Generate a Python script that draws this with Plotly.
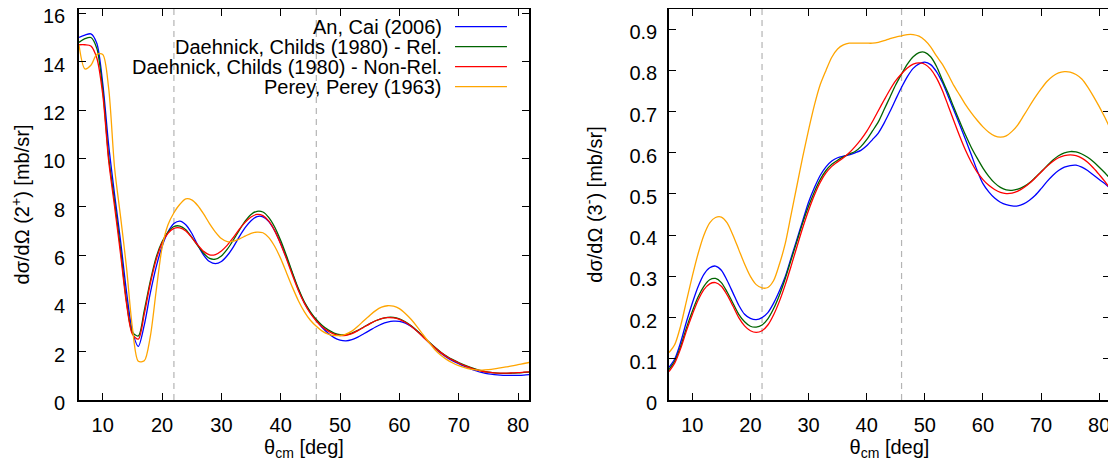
import plotly.graph_objects as go

# ---------------- data ----------------
theta = list(range(6, 83))  # theta_cm [deg]

series_names = [
    "An, Cai (2006)",
    "Daehnick, Childs (1980) - Rel.",
    "Daehnick, Childs (1980) - Non-Rel.",
    "Perey, Perey (1963)",
]
series_colors = ["#0000ff", "#006400", "#ff0000", "#ffa500"]

# left panel: dsigma/dOmega (2+) [mb/sr]
xs2_an_cai = [15.0, 15.1, 15.15, 14.76, 13.1, 10.55, 8.5, 6.6, 4.5, 2.85,
              2.22, 3.1, 4.4, 5.5, 6.35, 6.95, 7.3, 7.4, 7.25, 6.9,
              6.42, 6.0, 5.73, 5.64, 5.73, 5.98, 6.33, 6.75, 7.13, 7.42,
              7.59, 7.58, 7.38, 7.0, 6.48, 5.87, 5.22, 4.55, 4.02, 3.62,
              3.3, 3.0, 2.76, 2.58, 2.48, 2.45, 2.5, 2.6, 2.74, 2.88,
              3.02, 3.14, 3.22, 3.26, 3.25, 3.18, 3.04, 2.86, 2.63, 2.38,
              2.14, 1.93, 1.76, 1.62, 1.5, 1.39, 1.29, 1.2, 1.13, 1.08,
              1.05, 1.03, 1.02, 1.02, 1.02, 1.03, 1.05]
xs2_dc_rel = [14.8, 14.95, 15.0, 14.55, 12.85, 10.05, 8.2, 6.25, 4.1, 2.8,
              2.65, 3.7, 4.9, 5.9, 6.55, 6.95, 7.18, 7.2, 7.05, 6.74,
              6.39, 6.07, 5.86, 5.83, 5.96, 6.24, 6.61, 7.02, 7.4, 7.68,
              7.81, 7.78, 7.55, 7.15, 6.6, 5.95, 5.25, 4.6, 4.05, 3.65,
              3.33, 3.08, 2.9, 2.77, 2.7, 2.7, 2.77, 2.88, 3.02, 3.16,
              3.28, 3.37, 3.42, 3.42, 3.36, 3.24, 3.07, 2.86, 2.63, 2.4,
              2.18, 1.98, 1.81, 1.67, 1.55, 1.44, 1.35, 1.27, 1.2, 1.15,
              1.12, 1.1, 1.1, 1.11, 1.12, 1.14, 1.16]
xs2_dc_nonrel = [14.7, 14.7, 14.65, 14.15, 12.65, 9.9, 8.0, 6.05, 4.0, 2.72,
                 2.52, 3.55, 4.8, 5.8, 6.5, 6.9, 7.1, 7.12, 6.99, 6.72,
                 6.42, 6.15, 6.01, 6.02, 6.17, 6.41, 6.72, 7.06, 7.35, 7.57,
                 7.68, 7.63, 7.4, 7.0, 6.45, 5.82, 5.15, 4.52, 4.0, 3.58,
                 3.27, 3.02, 2.85, 2.73, 2.67, 2.68, 2.75, 2.87, 3.01, 3.15,
                 3.28, 3.37, 3.41, 3.4, 3.34, 3.22, 3.05, 2.84, 2.61, 2.38,
                 2.16, 1.96, 1.79, 1.65, 1.53, 1.42, 1.33, 1.25, 1.19, 1.15,
                 1.12, 1.11, 1.11, 1.12, 1.13, 1.15, 1.17]
xs2_perey = [14.7, 13.7, 13.85, 14.3, 14.3, 12.9, 9.6, 7.6, 5.5, 3.0,
             1.6, 1.62, 2.6, 4.5, 6.3, 7.25, 7.75, 8.1, 8.32, 8.28,
             8.05, 7.7, 7.3, 6.95, 6.68, 6.55, 6.57, 6.66, 6.78, 6.9,
             6.95, 6.92, 6.72, 6.35, 5.85, 5.25, 4.65, 4.1, 3.65, 3.3,
             3.05, 2.85, 2.73, 2.67, 2.67, 2.73, 2.85, 3.05, 3.28, 3.5,
             3.7, 3.84, 3.9, 3.88, 3.78, 3.58, 3.33, 3.03, 2.7, 2.38,
             2.08, 1.85, 1.67, 1.53, 1.42, 1.34, 1.28, 1.25, 1.24, 1.26,
             1.29, 1.33, 1.37, 1.41, 1.46, 1.51, 1.56]

# right panel: dsigma/dOmega (3-) [mb/sr]
xs3_an_cai = [0.079, 0.1, 0.14, 0.19, 0.235, 0.275, 0.305, 0.321, 0.325, 0.315,
              0.29, 0.26, 0.23, 0.208, 0.198, 0.195, 0.2, 0.212, 0.235, 0.265,
              0.3, 0.345, 0.39, 0.435, 0.48, 0.515, 0.545, 0.566, 0.58, 0.588,
              0.592, 0.595, 0.6, 0.606, 0.617, 0.632, 0.648, 0.672, 0.7, 0.73,
              0.759, 0.785, 0.805, 0.816, 0.82, 0.814, 0.797, 0.771, 0.738, 0.703,
              0.668, 0.632, 0.595, 0.557, 0.525, 0.505, 0.49, 0.48, 0.474, 0.471,
              0.471, 0.476, 0.485, 0.497, 0.513, 0.53, 0.545, 0.557, 0.565, 0.569,
              0.57, 0.565, 0.557, 0.546, 0.535, 0.525, 0.512]
xs3_dc_rel = [0.074, 0.095, 0.13, 0.175, 0.215, 0.25, 0.276, 0.292, 0.295, 0.285,
              0.262, 0.235, 0.208, 0.19, 0.179, 0.177, 0.182, 0.197, 0.222, 0.255,
              0.295, 0.34, 0.385, 0.43, 0.47, 0.505, 0.535, 0.557, 0.572, 0.582,
              0.59, 0.597, 0.603, 0.615, 0.632, 0.653, 0.675, 0.705, 0.735, 0.765,
              0.791, 0.815, 0.833, 0.843, 0.844, 0.833, 0.81, 0.777, 0.745, 0.71,
              0.676, 0.643, 0.613, 0.587, 0.563, 0.543, 0.527, 0.516, 0.51, 0.509,
              0.512, 0.518, 0.527, 0.54, 0.554, 0.568, 0.582, 0.593, 0.6, 0.603,
              0.602, 0.597, 0.589, 0.578, 0.565, 0.551, 0.535]
xs3_dc_nonrel = [0.069, 0.09, 0.125, 0.168, 0.207, 0.242, 0.268, 0.282, 0.285, 0.276,
                 0.255, 0.228, 0.2, 0.18, 0.168, 0.164, 0.168, 0.182, 0.207, 0.24,
                 0.28, 0.325, 0.372, 0.418, 0.46, 0.497, 0.528, 0.551, 0.567, 0.578,
                 0.588, 0.6, 0.615, 0.632, 0.652, 0.676, 0.702, 0.728, 0.753, 0.775,
                 0.792, 0.806, 0.815, 0.818, 0.815, 0.803, 0.782, 0.752, 0.715, 0.677,
                 0.64, 0.606, 0.577, 0.553, 0.535, 0.521, 0.511, 0.504, 0.501, 0.502,
                 0.507, 0.515, 0.526, 0.539, 0.553, 0.567, 0.579, 0.588, 0.593, 0.595,
                 0.593, 0.587, 0.577, 0.563, 0.547, 0.53, 0.51]
xs3_perey = [0.115, 0.135, 0.18, 0.24, 0.3, 0.355, 0.4, 0.43, 0.443, 0.444,
             0.43, 0.4, 0.365, 0.33, 0.3, 0.28, 0.272, 0.273, 0.29, 0.33,
             0.38, 0.45, 0.52, 0.59, 0.655, 0.715, 0.765, 0.8, 0.832, 0.852,
             0.862, 0.866, 0.866, 0.866, 0.866, 0.866, 0.868, 0.872, 0.877, 0.881,
             0.884, 0.887, 0.887, 0.883, 0.873, 0.857, 0.835, 0.815, 0.79, 0.763,
             0.74, 0.717, 0.697, 0.679, 0.663, 0.65, 0.641, 0.638, 0.641, 0.652,
             0.668, 0.69, 0.713, 0.735, 0.755, 0.773, 0.786, 0.794, 0.797, 0.796,
             0.79, 0.779, 0.76, 0.737, 0.712, 0.685, 0.655]

marker_angles = [22, 46]  # dashed reference lines [deg]

x_range = [6, 81.85]
y2_range = [0, 16.18]
y3_range = [0, 0.949]

# ---------------- figure ----------------
FONT = "Liberation Sans, Arial, Helvetica, sans-serif"
FS = 20

fig = go.Figure()

left_sets = [xs2_an_cai, xs2_dc_rel, xs2_dc_nonrel, xs2_perey]
right_sets = [xs3_an_cai, xs3_dc_rel, xs3_dc_nonrel, xs3_perey]

for name, col, ys in zip(series_names, series_colors, left_sets):
    fig.add_trace(go.Scatter(x=theta, y=ys, mode="lines", name=name,
                             line=dict(color=col, width=1.3, shape="spline", smoothing=0.8),
                             xaxis="x", yaxis="y", showlegend=False))
for name, col, ys in zip(series_names, series_colors, right_sets):
    fig.add_trace(go.Scatter(x=theta, y=ys, mode="lines", name=name,
                             line=dict(color=col, width=1.3, shape="spline", smoothing=0.8),
                             xaxis="x2", yaxis="y2", showlegend=False))

# dashed vertical markers
for xa, ya in (("x", "y"), ("x2", "y2")):
    for a in marker_angles:
        fig.add_shape(type="line", xref=xa, yref=f"{ya} domain", x0=a, x1=a, y0=0, y1=1,
                      line=dict(color="#b4b4b4", width=1.2, dash="6px,5px"), layer="below")

# legend (gnuplot style: right-aligned text, sample on the right)
leg_rows = [0.9547, 0.9036, 0.8524, 0.8013]
for name, col, yy in zip(series_names, series_colors, leg_rows):
    fig.add_annotation(text=name, xref="x domain", yref="y domain", x=0.812, y=yy,
                       xanchor="right", yanchor="middle", showarrow=False,
                       font=dict(family=FONT, size=FS, color="black"))
    fig.add_shape(type="line", xref="x domain", yref="y domain", x0=0.8356, x1=0.951,
                  y0=yy, y1=yy, line=dict(color=col, width=1.3))

# the page body has an 8px margin, so the figure is 8px smaller than the window
W, H = 1108, 455
ml, mr, mt, mb = 71, 6, 1, 63
pw = W - ml - mr
left_dom = [0, 450 / pw]
right_dom = [(669 - 8 - ml) / pw, 1]

axis_common = dict(showline=True, linecolor="black", linewidth=1.6, mirror="ticks",
                   ticks="inside", ticklen=7, tickwidth=1.2, tickcolor="black",
                   showgrid=False, zeroline=False, ticklabeloverflow="allow",
                   tickfont=dict(family=FONT, size=FS, color="black"))

xtitle = dict(text="θ<sub>cm</sub> [deg]", font=dict(family=FONT, size=FS, color="black"), standoff=4)

fig.update_layout(
    width=W, height=H,
    margin=dict(l=ml, r=mr, t=mt, b=mb, autoexpand=False),
    paper_bgcolor="white", plot_bgcolor="white",
    showlegend=False,
    xaxis=dict(domain=left_dom, range=x_range, tick0=0, dtick=10, anchor="y",
               title=xtitle, ticklabelstandoff=6, **axis_common),
    yaxis=dict(domain=[0, 1], range=y2_range, tick0=0, dtick=2, anchor="x",
               title=dict(text="dσ/dΩ (2<sup>+</sup>) [mb/sr]",
                          font=dict(family=FONT, size=FS, color="black"), standoff=18),
               ticklabelstandoff=8, ticklabelshift=3, **axis_common),
    xaxis2=dict(domain=right_dom, range=x_range, tick0=0, dtick=10, anchor="y2",
                title=xtitle, ticklabelstandoff=6, **axis_common),
    yaxis2=dict(domain=[0, 1], range=y3_range, tick0=0, dtick=0.1, anchor="x2",
                title=dict(text="dσ/dΩ (3<sup>-</sup>) [mb/sr]",
                           font=dict(family=FONT, size=FS, color="black"), standoff=21),
                ticklabelstandoff=6, ticklabelshift=3, **axis_common),
)

fig.write_html("out.html")
